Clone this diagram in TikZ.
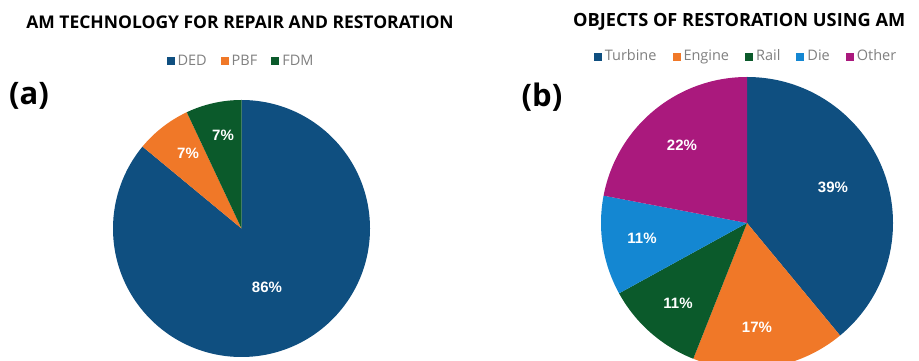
\documentclass[tikz,border=0pt]{standalone}
\usepackage{fontspec}
\setmainfont{Open Sans}
\newfontfamily\labfont{Liberation Sans}
\usepackage{xcolor}
\usetikzlibrary{positioning}
\definecolor{dedblue}{HTML}{0F4F80}
\definecolor{pbforange}{HTML}{F07828}
\definecolor{fdmgreen}{HTML}{0B5A2B}
\definecolor{dieblue}{HTML}{1487D2}
\definecolor{othermag}{HTML}{AA197D}
\definecolor{leggray}{HTML}{808080}
\newcommand{\legsq}[1]{\textcolor{#1}{\rule{8pt}{8pt}}\hspace{3pt}}

\begin{document}
\begin{tikzpicture}[x=1pt,y=1pt]
\tikzstyle{title}=[font=\bfseries\fontsize{17.5}{20}\selectfont, inner sep=0pt]
\tikzstyle{legend}=[font=\fontsize{14.5}{16}\selectfont, text=leggray, inner sep=0pt]
\tikzstyle{tag}=[font=\bfseries\fontsize{31}{35}\selectfont, inner sep=0pt]
\tikzstyle{pct}=[font=\labfont\bfseries\fontsize{15}{17}\selectfont, text=white, inner sep=0pt]
\useasboundingbox (0,0) rectangle (919,361);
\fill[white] (0,0) rectangle (919,361);

% (a) AM technology
\coordinate (ca) at (241.5,132.5);
\fill[dedblue]   (ca) -- ++(90:128.5)    arc[start angle=90,    end angle=-219.6, radius=128.5] -- cycle;
\fill[pbforange] (ca) -- ++(140.4:128.5) arc[start angle=140.4, end angle=115.2,  radius=128.5] -- cycle;
\fill[fdmgreen]  (ca) -- ++(115.2:128.5) arc[start angle=115.2, end angle=90,     radius=128.5] -- cycle;

\node[title] (ta) at (240,339) {AM TECHNOLOGY FOR REPAIR AND RESTORATION};
\node[legend] (la) at (240,301) {\legsq{dedblue}DED\hspace{14pt}\legsq{pbforange}PBF\hspace{14pt}\legsq{fdmgreen}FDM};
\node[tag] (tga) at (29,265) {(a)};
\node[pct] (a86) at (267,74) {86\%};
\node[pct] (a7o) at (188,208) {7\%};
\node[pct] (a7g) at (223,226) {7\%};

% (b) objects of restoration
\coordinate (cb) at (747,138);
\fill[dedblue]   (cb) -- ++(90:146)     arc[start angle=90,     end angle=-50.4,  radius=146] -- cycle;
\fill[pbforange] (cb) -- ++(-50.4:146)  arc[start angle=-50.4,  end angle=-111.6, radius=146] -- cycle;
\fill[fdmgreen]  (cb) -- ++(-111.6:146) arc[start angle=-111.6, end angle=-151.2, radius=146] -- cycle;
\fill[dieblue]   (cb) -- ++(-151.2:146) arc[start angle=-151.2, end angle=-190.8, radius=146] -- cycle;
\fill[othermag]  (cb) -- ++(169.2:146)  arc[start angle=169.2,  end angle=90,     radius=146] -- cycle;

\node[title, font=\bfseries\fontsize{18.2}{21}\selectfont, anchor=west] (tb) at (573,339) {OBJECTS OF RESTORATION USING AM};
\node[legend] (lb) at (745,304) {\legsq{dedblue}Turbine\hspace{16pt}\legsq{pbforange}Engine\hspace{16pt}\legsq{fdmgreen}Rail\hspace{16pt}\legsq{dieblue}Die\hspace{16pt}\legsq{othermag}Other};
\node[tag] (tgb) at (542,264) {(b)};
\node[pct] (b39) at (833,174) {39\%};
\node[pct] (b17) at (757,34) {17\%};
\node[pct] (b11r) at (678,58) {11\%};
\node[pct] (b11d) at (642,123) {11\%};
\node[pct] (b22) at (682,216) {22\%};
\end{tikzpicture}
\end{document}
